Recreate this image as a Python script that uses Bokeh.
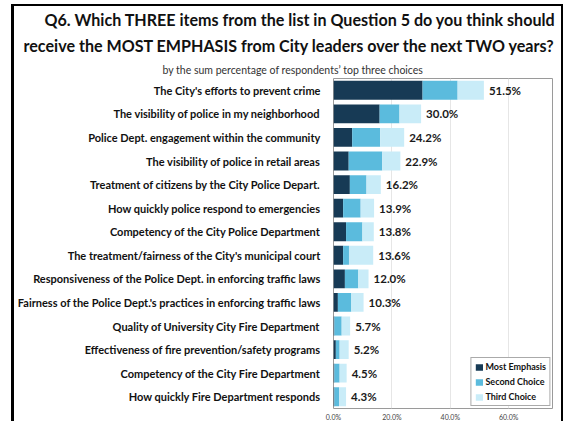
from bokeh.plotting import figure
from bokeh.models import ColumnDataSource, FactorRange, Title, FixedTicker, PrintfTickFormatter
from bokeh.core.properties import value
from bokeh.embed import file_html
from bokeh.resources import INLINE

categories = [
    "The City's efforts to prevent crime",
    "The visibility of police in my neighborhood",
    "Police Dept. engagement within the community",
    "The visibility of police in retail areas",
    "Treatment of citizens by the City Police Depart.",
    "How quickly police respond to emergencies",
    "Competency of the City Police Department",
    "The treatment/fairness of the City's municipal court",
    "Responsiveness of the Police Dept. in enforcing traffic laws",
    "Fairness of the Police Dept.'s practices in enforcing traffic laws",
    "Quality of University City Fire Department",
    "Effectiveness of fire prevention/safety programs",
    "Competency of the City Fire Department",
    "How quickly Fire Department responds",
]
most_emphasis = [30.5, 15.8, 6.4, 5.2, 5.6, 3.3, 4.3, 3.3, 3.9, 1.5, 0.3, 0.8, 0.3, 0.3]
second_choice = [12.0, 6.8, 9.6, 11.5, 5.7, 6.0, 5.6, 2.0, 4.6, 4.6, 2.5, 1.3, 1.8, 1.6]
third_choice = [9.0, 7.4, 8.2, 6.2, 4.9, 4.6, 3.9, 8.3, 3.5, 4.2, 2.9, 3.1, 2.4, 2.4]
totals = [51.5, 30.0, 24.2, 22.9, 16.2, 13.9, 13.8, 13.6, 12.0, 10.3, 5.7, 5.2, 4.5, 4.3]
series_names = ["Most Emphasis", "Second Choice", "Third Choice"]
x_ticks = [0, 20, 40, 60]

FONT = "Lato"
colors = ["#173a55", "#5bbbdd", "#c9ecf8"]

source = ColumnDataSource(dict(
    cat=categories,
    m=most_emphasis,
    s=second_choice,
    t=third_choice,
    total=totals,
    label=["%.1f%%" % v for v in totals],
))

p = figure(
    width=552, height=417,
    y_range=FactorRange(factors=categories[::-1]),
    x_range=(0, 75),
    output_backend="svg", toolbar_location=None, title=None,
    min_border_left=5, min_border_right=14, min_border_top=15, min_border_bottom=0,
)

p.hbar_stack(["m", "s", "t"], y="cat", height=0.8, color=colors, source=source,
             legend_label=series_names, line_color=None)

p.text(x="total", y="cat", text="label", source=source, x_offset=5,
       text_align="left", text_baseline="middle",
       text_font=value(FONT), text_font_style="bold", text_font_size="11.5px",
       text_color="#1a1a1a")

# titles (added innermost first); left-aligned with offsets relative to the frame
p.add_layout(Title(text="by the sum percentage of respondents\u2019 top three choices",
                   align="left", offset=-171, text_font=FONT, text_font_size="10.5px",
                   text_font_style="normal", text_color="#333333",
                   standoff=6), "above")
p.add_layout(Title(text="receive the MOST EMPHASIS from City leaders over the next TWO years?",
                   align="left", offset=-310, text_font=FONT, text_font_size="16.1px",
                   text_font_style="bold", text_color="#111111", standoff=8), "above")
p.add_layout(Title(text="Q6. Which THREE items from the list in Question 5 do you think should",
                   align="left", offset=-289, text_font=FONT, text_font_size="16.1px",
                   text_font_style="bold", text_color="#111111", standoff=2), "above")

# axes
p.xaxis.ticker = FixedTicker(ticks=x_ticks)
p.xaxis.formatter = PrintfTickFormatter(format="%.1f%%")
p.xaxis.axis_line_color = None
p.xaxis.major_tick_line_color = None
p.xaxis.minor_tick_line_color = None
p.xaxis.major_tick_out = 0
p.xaxis.major_tick_in = 0
p.xaxis.minor_tick_out = 0
p.xaxis.major_label_text_font = FONT
p.xaxis.major_label_text_font_size = "7px"
p.xaxis.major_label_text_color = "#444444"
p.xaxis.major_label_standoff = 4

p.yaxis.axis_line_color = None
p.yaxis.major_tick_line_color = None
p.yaxis.minor_tick_line_color = None
p.yaxis.major_label_text_font = FONT
p.yaxis.major_label_text_font_style = "bold"
p.yaxis.major_label_text_font_size = "11px"
p.yaxis.major_label_text_color = "#111111"
p.yaxis.major_label_standoff = 7

p.ygrid.grid_line_color = None
p.xgrid.grid_line_color = "#e6e6e6"
p.xgrid.grid_line_width = 1

p.outline_line_color = "#9a9a9a"
p.outline_line_width = 1

leg = p.legend[0]
leg.location = "bottom_right"
leg.label_text_font = FONT
leg.label_text_font_style = "bold"
leg.label_text_font_size = "9px"
leg.label_text_color = "#111111"
leg.glyph_width = 9
leg.glyph_height = 8
leg.label_height = 8
leg.label_standoff = 2
leg.spacing = 4
leg.padding = 3
leg.margin = 2
leg.border_line_color = "#555555"
leg.border_line_width = 1.5
leg.background_fill_alpha = 1

p.styles = {"border-left": "3px solid black", "border-top": "2px solid black",
            "border-right": "2px solid black", "margin-left": "11px", "margin-top": "4px"}

open("out.html", "w").write(file_html(p, INLINE))
